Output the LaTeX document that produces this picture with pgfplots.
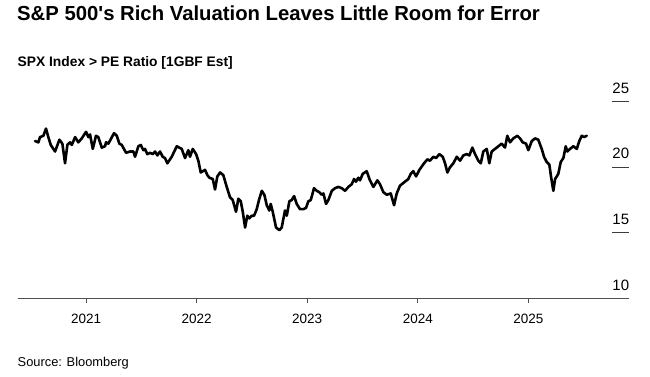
\documentclass[border=0pt]{standalone}
\usepackage{fontspec}
\setmainfont{Liberation Sans}
\usepackage{pgfplots}
\pgfplotsset{compat=1.18}
\definecolor{axisgray}{RGB}{80,80,80}
\definecolor{tickgray}{RGB}{60,60,60}
\begin{document}
\begin{tikzpicture}[x=1pt,y=1pt]
\useasboundingbox (0,0) rectangle (650,376);
\node[anchor=base west,inner sep=0pt,font=\fontsize{20.3}{24}\selectfont\bfseries] at (17,355.3) {S\&P 500\textquotesingle s Rich Valuation Leaves Little Room for Error};
\node[anchor=base west,inner sep=0pt,font=\fontsize{13.8}{16}\selectfont\bfseries] at (17.5,310) {SPX Index > PE Ratio [1GBF Est]};
\node[anchor=base west,inner sep=0pt,font=\fontsize{12.85}{15}\selectfont] at (17.5,9.5) {Source: Bloomberg};
\begin{axis}[
  at={(17.7pt,77.7pt)}, anchor=south west,
  scale only axis, width=611.6pt, height=196.6pt,
  xmin=2020.382, xmax=2025.912, ymin=10, ymax=25,
  axis x line*=bottom, axis y line=none,
  x axis line style={draw=axisgray, line width=1pt, -},
  xtick={2021,2022,2023,2024,2025},
  xticklabels={2021,2022,2023,2024,2025},
  tick align=outside, major tick length=4.5pt,
  xtick style={draw=axisgray, line width=0.9pt},
  xticklabel style={font=\fontsize{13.5}{16}\selectfont, anchor=base, inner sep=0pt, yshift=-20.5pt},
  clip=false,
]
\addplot[black, line width=2.6pt, line join=round, line cap=round] table {
x y
2020.539 22.0
2020.569 21.9
2020.584 22.3
2020.614 22.4
2020.638 22.95
2020.659 22.3
2020.681 21.7
2020.720 21.2
2020.759 22.1
2020.786 21.8
2020.810 20.3
2020.831 21.7
2020.855 21.9
2020.871 21.7
2020.901 22.3
2020.930 21.9
2020.961 22.2
2021.000 22.7
2021.021 22.3
2021.036 22.5
2021.061 21.4
2021.090 22.4
2021.111 22.3
2021.142 21.5
2021.172 21.6
2021.181 21.9
2021.202 21.8
2021.253 22.6
2021.278 22.4
2021.301 21.8
2021.323 21.7
2021.362 21.1
2021.398 21.2
2021.428 21.2
2021.443 20.8
2021.473 21.6
2021.495 21.7
2021.518 21.3
2021.533 21.4
2021.554 21.0
2021.579 21.1
2021.603 21.0
2021.624 21.2
2021.645 20.9
2021.669 21.2
2021.693 20.8
2021.714 20.7
2021.735 20.3
2021.775 20.8
2021.820 21.6
2021.865 21.4
2021.895 20.7
2021.925 21.3
2021.940 20.8
2021.965 21.4
2021.995 21.0
2022.015 20.5
2022.037 19.6
2022.076 19.8
2022.097 19.4
2022.115 19.2
2022.146 19.1
2022.166 18.3
2022.187 19.3
2022.212 19.6
2022.241 19.4
2022.272 18.5
2022.302 17.7
2022.326 17.5
2022.356 16.6
2022.377 17.6
2022.399 17.4
2022.417 16.6
2022.438 15.4
2022.458 16.3
2022.476 16.1
2022.498 16.3
2022.519 16.3
2022.543 16.8
2022.567 17.6
2022.589 18.2
2022.612 17.9
2022.634 17.1
2022.657 16.7
2022.670 17.2
2022.688 16.6
2022.718 15.4
2022.748 15.2
2022.769 15.4
2022.799 16.7
2022.815 16.3
2022.838 17.4
2022.860 17.5
2022.881 17.8
2022.905 17.2
2022.935 16.8
2022.965 16.8
2022.989 16.9
2023.010 17.4
2023.032 17.5
2023.061 18.4
2023.086 18.2
2023.109 18.1
2023.131 17.9
2023.146 18.0
2023.170 17.2
2023.191 17.5
2023.222 18.2
2023.251 18.4
2023.281 18.5
2023.312 18.4
2023.342 18.2
2023.372 18.5
2023.402 18.7
2023.423 19.1
2023.441 18.9
2023.462 19.2
2023.477 19.0
2023.502 19.5
2023.538 19.7
2023.562 19.1
2023.598 18.5
2023.634 19.0
2023.658 18.7
2023.688 18.1
2023.719 17.9
2023.755 18.0
2023.785 17.1
2023.809 18.0
2023.839 18.6
2023.884 18.9
2023.914 19.1
2023.936 19.5
2023.959 19.7
2023.984 19.3
2024.014 19.8
2024.056 20.3
2024.086 20.6
2024.110 20.5
2024.140 20.8
2024.165 20.7
2024.194 21.0
2024.225 20.8
2024.246 20.3
2024.267 19.6
2024.291 20.0
2024.321 20.3
2024.352 20.8
2024.382 20.5
2024.411 20.9
2024.442 21.0
2024.466 20.9
2024.493 21.5
2024.517 21.0
2024.547 20.5
2024.569 20.3
2024.592 21.2
2024.623 21.4
2024.646 20.3
2024.668 21.2
2024.698 21.4
2024.728 21.6
2024.758 21.8
2024.788 21.5
2024.809 22.4
2024.834 21.9
2024.863 22.2
2024.900 22.4
2024.924 22.2
2024.948 21.9
2024.978 21.8
2024.999 21.3
2025.030 22.0
2025.060 22.2
2025.089 22.1
2025.120 21.4
2025.141 20.8
2025.165 20.4
2025.189 20.2
2025.204 19.3
2025.225 18.2
2025.241 19.1
2025.256 19.3
2025.270 19.5
2025.292 20.4
2025.316 20.7
2025.337 21.6
2025.352 21.2
2025.376 21.4
2025.406 21.6
2025.437 21.4
2025.460 22.0
2025.482 22.4
2025.503 22.3
2025.527 22.4
};
\pgfplotsinvokeforeach{15,20,25}{
  \draw[tickgray, line width=0.9pt] (axis cs:2025.753,#1) -- (axis cs:2025.912,#1);
}
\pgfplotsinvokeforeach{10,15,20,25}{
  \node[anchor=base east, inner sep=0pt, yshift=8.3pt, font=\fontsize{15}{18}\selectfont] at (axis cs:2025.912,#1) {#1};
}
\end{axis}
\end{tikzpicture}
\end{document}
